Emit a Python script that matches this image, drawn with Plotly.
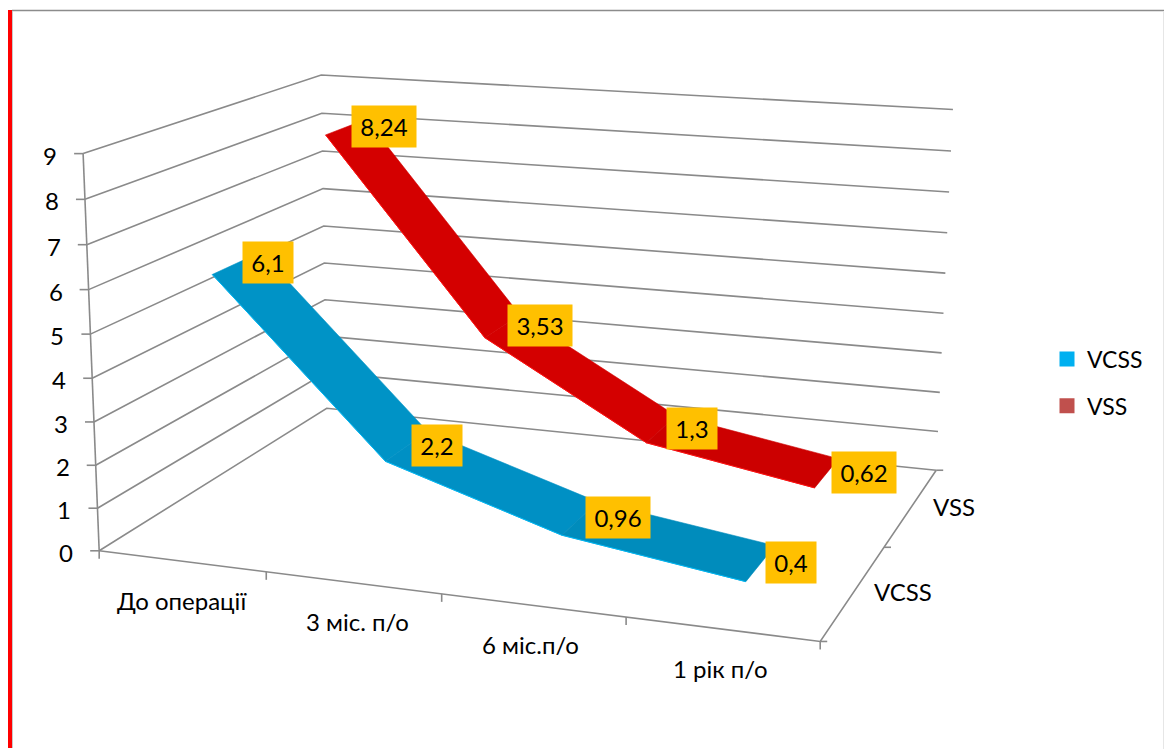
import numpy as np
import plotly.graph_objects as go

# Chart data
categories = ["До операції", "3 міс. п/о", "6 міс.п/о", "1 рік п/о"]
series_names = ["VCSS", "VSS"]
vcss_values = [6.1, 2.2, 0.96, 0.4]
vss_values = [8.24, 3.53, 1.3, 0.62]
value_ticks = [0, 1, 2, 3, 4, 5, 6, 7, 8, 9]

WIDTH, HEIGHT = 1164, 749
FONT = "Lato, 'Noto Sans', sans-serif"
TEXT_SIZE = 24
GRID = "#8a8a8a"
N_CAT, N_SER, Z_MAX = len(categories), len(series_names), value_ticks[-1]

# Excel-style 3D plot box: known box positions (category, series, value) and
# where they land on the page. A projective camera is solved from these pairs.
camera_pairs = [
    ((0, 0, 0), (100, 549)), ((N_CAT, 0, 0), (820, 642)),
    ((N_CAT, N_SER, 0), (936, 468)), ((0, N_SER, 0), (326, 412)),
    ((0, 0, 9), (82, 154)), ((0, N_SER, 9), (322, 75)), ((N_CAT, N_SER, 9), (953, 110)),
    ((0, 0, 8), (84.5, 199.6)), ((0, 0, 7), (87, 245)), ((0, 0, 6), (89, 289)),
    ((0, 0, 2), (96, 464)), ((0, 0, 1), (98, 507)),
    ((0, N_SER, 8), (322, 113)), ((0, N_SER, 7), (323, 151)), ((0, N_SER, 6), (323, 188)),
    ((0, N_SER, 5), (323, 225)), ((0, N_SER, 4), (324, 263)),
    ((N_CAT, N_SER, 8), (951, 152)), ((N_CAT, N_SER, 3), (941.5, 353)),
    ((N_CAT, N_SER, 2), (940, 392)), ((N_CAT, N_SER, 1), (938, 431)),
    ((1, 0, 0), (266, 572)), ((2, 0, 0), (442, 596)), ((3, 0, 0), (625, 619)),
    ((N_CAT, 1, 0), (885, 546)),
]


def solve_camera(pairs):
    rows = []
    for (a, b, c), (u, v) in pairs:
        p = [a, b, c, 1]
        rows.append(p + [0, 0, 0, 0] + [-u * k for k in p])
        rows.append([0, 0, 0, 0] + p + [-v * k for k in p])
    return np.linalg.svd(np.array(rows, float))[2][-1].reshape(3, 4)


CAMERA = solve_camera(camera_pairs)


def project(cat, ser, val):
    q = CAMERA @ np.array([cat, ser, val, 1.0])
    return float(q[0] / q[2]), float(q[1] / q[2])


def polyline(fig, points, color=GRID, width=1.6):
    xy = [project(*p) for p in points]
    fig.add_trace(go.Scatter(x=[a for a, _ in xy], y=[b for _, b in xy], mode="lines",
                             line=dict(color=color, width=width), hoverinfo="skip", showlegend=False))


def ticks(fig, anchors, dx, dy):
    xs, ys = [], []
    for p in anchors:
        a, b = project(*p)
        xs += [a, a + dx, None]
        ys += [b, b + dy, None]
    fig.add_trace(go.Scatter(x=xs, y=ys, mode="lines", line=dict(color=GRID, width=1.6),
                             hoverinfo="skip", showlegend=False))


fig = go.Figure()

# Walls: value gridlines run along the side wall and then the back wall
for v in value_ticks:
    polyline(fig, [(0, 0, v), (0, N_SER, v), (N_CAT, N_SER, v)])

# Axis lines and tick marks
polyline(fig, [(0, 0, 0), (0, 0, Z_MAX)])
polyline(fig, [(0, 0, 0), (N_CAT, 0, 0), (N_CAT, N_SER, 0)])
ticks(fig, [(0, 0, v) for v in value_ticks], -9, 0)
ticks(fig, [(i, 0, 0) for i in range(N_CAT + 1)], 0, 8)
ticks(fig, [(N_CAT, j, 0) for j in range(N_SER + 1)], 7, 0)

# Ribbons, one quad per segment with slight shade changes as in 3D lighting
RIBBON_HALF_DEPTH = 0.2
ribbons = [
    (vss_values, 1.5, ["#d40000", "#d40000", "#cc0000"], "#ff1010"),
    (vcss_values, 0.5, ["#0093c6", "#0090c4", "#008cbc"], "#00b8f4"),
]
for values, depth, shades, edge in ribbons:
    front, back = depth - RIBBON_HALF_DEPTH, depth + RIBBON_HALF_DEPTH
    for i, shade in enumerate(shades):
        quad = [(i + 0.5, front, values[i]), (i + 1.5, front, values[i + 1]),
                (i + 1.5, back, values[i + 1]), (i + 0.5, back, values[i]), (i + 0.5, front, values[i])]
        xy = [project(*p) for p in quad]
        fig.add_trace(go.Scatter(x=[a for a, _ in xy], y=[b for _, b in xy], mode="lines", fill="toself",
                                 fillcolor=shade, line=dict(color=shade, width=0.6),
                                 hoverinfo="skip", showlegend=False))
    polyline(fig, [(i + 0.5, front, values[i]) for i in range(N_CAT)], color=edge, width=1)

# Legend entries
for name, color in zip(series_names, ["#00b0f0", "#c0504d"]):
    fig.add_trace(go.Scatter(x=[None], y=[None], mode="markers", name=name, legendgroup=name,
                             marker=dict(symbol="square", size=15, color=color)))

annotations = []
# Value data labels sit just right of their point on the ribbon centre line
for values, depth in [(vcss_values, 0.5), (vss_values, 1.5)]:
    for i, v in enumerate(values):
        a, b = project(i + 0.5, depth, v)
        text = f"{v}".replace(".", ",")
        annotations.append(dict(x=a, y=b, text=text, showarrow=False, xanchor="left", yanchor="middle",
                                xshift=4.5, yshift=0.5, width=64 if len(text) > 3 else 50, height=41,
                                align="center", valign="middle", bgcolor="#ffc000", borderpad=0,
                                font=dict(family=FONT, size=TEXT_SIZE, color="#000000")))
# Axis labels
for v in value_ticks:
    a, b = project(0, 0, v)
    annotations.append(dict(x=a, y=b, text=str(v), showarrow=False, xshift=-33, yshift=-1.5,
                            font=dict(family=FONT, size=TEXT_SIZE, color="#000000")))
category_nudge = [0, 5, -2, -1]
for i, name in enumerate(categories):
    a, b = project(i + 0.5, 0, 0)
    annotations.append(dict(x=a, y=b, text=name, showarrow=False, xshift=category_nudge[i], yshift=-39,
                            font=dict(family=FONT, size=TEXT_SIZE, color="#000000")))
series_label_shift = [49, 43]
for j, name in enumerate(series_names):
    a, b = project(N_CAT, j + 0.5, 0)
    annotations.append(dict(x=a, y=b, text=name, showarrow=False, xshift=series_label_shift[j],
                            font=dict(family=FONT, size=TEXT_SIZE, color="#000000")))

# Frame of the embedded chart object
shapes = [
    dict(type="rect", x0=8, x1=12, y0=10, y1=748, fillcolor="#ff0000", line_width=0),
    dict(type="line", x0=12, x1=WIDTH, y0=10.5, y1=10.5, line=dict(color="#8c8c8c", width=1.5)),
    dict(type="line", x0=12.5, x1=12.5, y0=11, y1=748, line=dict(color="#c8c8c8", width=1)),
    dict(type="line", x0=1163.5, x1=1163.5, y0=11, y1=HEIGHT, line=dict(color="#e6e6e6", width=1)),
]

fig.update_layout(
    width=WIDTH, height=HEIGHT, margin=dict(l=0, r=0, t=0, b=0),
    paper_bgcolor="#ffffff", plot_bgcolor="#ffffff", hovermode=False,
    xaxis=dict(range=[0, WIDTH], visible=False, fixedrange=True),
    yaxis=dict(range=[HEIGHT, 0], visible=False, fixedrange=True),
    annotations=annotations, shapes=shapes,
    legend=dict(x=1047 / WIDTH, y=1 - 382.5 / HEIGHT, xanchor="left", yanchor="middle",
                tracegroupgap=14, bgcolor="rgba(0,0,0,0)",
                font=dict(family=FONT, size=23, color="#000000")),
)

fig.write_html("out.html")
